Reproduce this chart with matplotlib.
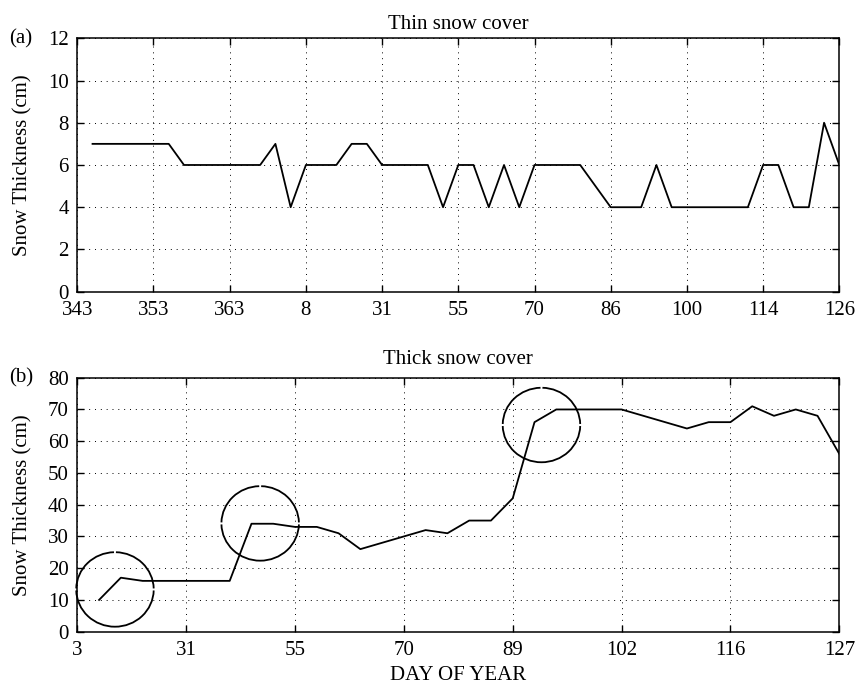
import matplotlib
matplotlib.use("Agg")
import matplotlib.pyplot as plt
from matplotlib.patches import Arc
from matplotlib.transforms import ScaledTranslation

# ---- data (sample index, value) ----
thin_idx = [1, 6, 7, 12, 13, 14, 15, 17, 18, 19, 20, 23, 24, 25, 26, 27, 28, 29, 30,
            33, 35, 37, 38, 39, 44, 45, 46, 47, 48, 49, 50]
thin_val = [7, 7, 6, 6, 7, 4, 6, 6, 7, 7, 6, 6, 4, 6, 6, 4, 6, 4, 6,
            6, 4, 4, 6, 4, 4, 6, 6, 4, 4, 8, 6]
thin_tick_labels = ['343', '353', '363', '8', '31', '55', '70', '86', '100', '114', '126']

thick_idx = [1, 2, 3, 7, 8, 9, 10, 11, 12, 13, 16, 17, 18, 19, 20, 21, 22, 25,
             28, 29, 30, 31, 32, 33, 34, 35]
thick_val = [10, 17, 16, 16, 34, 34, 33, 33, 31, 26, 32, 31, 35, 35, 42, 66, 70, 70,
             64, 66, 66, 71, 68, 70, 68, 56]
thick_tick_labels = ['3', '31', '55', '70', '89', '102', '116', '127']

# circled regions (center index, center value)
circle_x = [1.73, 8.4, 21.32]
circle_y = [13.3, 34.1, 65.1]

FONT = 'Liberation Serif'
FS = 15
plt.rcParams['font.family'] = [FONT, 'DejaVu Serif']
plt.rcParams['font.size'] = FS

fig = plt.figure(figsize=(8.56, 6.86), dpi=100)
ax1 = fig.add_axes([0.0903, 0.5748, 0.8902, 0.3694])
ax2 = fig.add_axes([0.0903, 0.0792, 0.8902, 0.3702])

grid_kw = dict(color='black', linewidth=0.7, linestyle=(0, (1, 5)))

def style(ax):
    ax.tick_params(direction='in', length=5, width=1.0, top=True, right=True,
                   labelsize=FS)
    ax.tick_params(axis='y', pad=6)
    ax.tick_params(axis='x', pad=7)
    for s in ax.spines.values():
        s.set_linewidth(1.1)
    ax.grid(True, **grid_kw)
    ax.set_axisbelow(True)
    ax.yaxis.set_label_coords(-0.0594, 0.5)

# top panel
ax1.plot(thin_idx, thin_val, color='black', linewidth=1.3)
ax1.set_xlim(0, 50)
ax1.set_ylim(0, 12)
ax1.set_xticks(range(0, 51, 5))
ax1.set_xticklabels(thin_tick_labels)
ax1.set_yticks(range(0, 13, 2))
ax1.set_title('Thin snow cover', fontsize=FS, pad=7)
ax1.set_ylabel('Snow Thickness (cm)', fontsize=FS)
style(ax1)

# bottom panel
ax2.plot(thick_idx, thick_val, color='black', linewidth=1.3)
ax2.set_xlim(0, 35)
ax2.set_ylim(0, 80)
ax2.set_xticks(range(0, 36, 5))
ax2.set_xticklabels(thick_tick_labels)
ax2.set_yticks(range(0, 81, 10))
ax2.set_title('Thick snow cover', fontsize=FS, pad=10)
ax2.set_ylabel('Snow Thickness (cm)', fontsize=FS)
ax2.set_xlabel('DAY OF YEAR', fontsize=FS, labelpad=4)
style(ax2)

for cx, cy in zip(circle_x, circle_y):
    tr = fig.dpi_scale_trans + ScaledTranslation(cx, cy, ax2.transData)
    for t1, t2 in [(1.5, 88.5), (91.5, 178.5), (181.5, 358.5)]:
        arc = Arc((0, 0), 0.775, 0.745, theta1=t1, theta2=t2, transform=tr,
                  color='black', linewidth=1.3, clip_on=False)
        ax2.add_patch(arc)

fig.text(21 / 856, 1 - 38.5 / 686, '(a)', ha='center', va='center', fontsize=FS)
fig.text(21 / 856, 1 - 377.7 / 686, '(b)', ha='center', va='center', fontsize=FS)

fig.savefig('out.png', dpi=100)
